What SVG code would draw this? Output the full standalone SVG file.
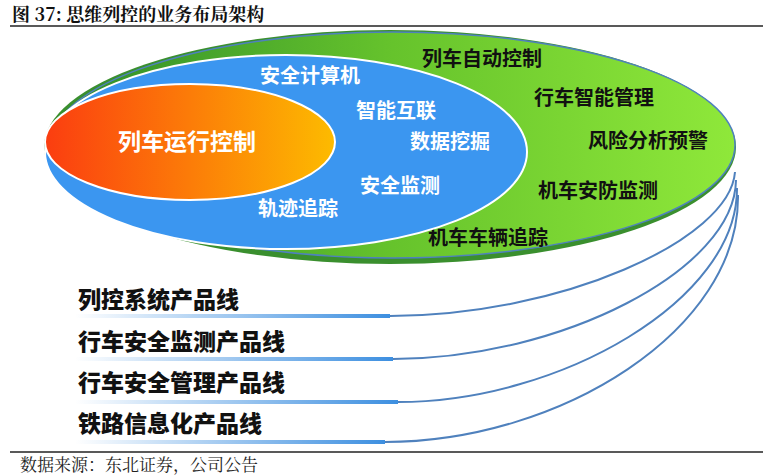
<svg xmlns="http://www.w3.org/2000/svg" width="763" height="476" viewBox="0 0 763 476">
<defs>
<linearGradient id="gg" x1="0" y1="0" x2="1" y2="0"><stop offset="0" stop-color="#2e8b2a"/><stop offset="0.5" stop-color="#66c32c"/><stop offset="1" stop-color="#8fe83a"/></linearGradient>
<linearGradient id="og" x1="0" y1="0" x2="1" y2="0"><stop offset="0" stop-color="#fb3d10"/><stop offset="1" stop-color="#fdbb00"/></linearGradient>
<linearGradient id="ul" x1="0" y1="0" x2="1" y2="0"><stop offset="0" stop-color="#fff"/><stop offset="1" stop-color="#3d8fe0"/></linearGradient>
<style>
.k{font-family:"Noto Sans CJK SC",sans-serif;font-weight:bold;fill:#111;text-anchor:middle}
.w{font-family:"Noto Sans CJK SC",sans-serif;font-weight:bold;fill:#fff;text-anchor:middle}
.p{font-family:"Noto Sans CJK SC",sans-serif;font-weight:900;fill:#111;font-size:23px}
.c{fill:none;stroke:#4f81bd;stroke-width:2}
</style>
</defs>
<text x="12" y="21" font-family="Noto Serif CJK SC,Liberation Serif,serif" font-size="18" font-weight="bold" fill="#111">图  37: 思维列控的业务布局架构</text>
<line x1="10" y1="26" x2="763" y2="26" stroke="#222" stroke-width="1.5"/>
<g id="connectors">
<path class="c" d="M735,172 C730,240 560,316 390,316"/>
<path class="c" d="M736,180 C735,270 560,359 393,359"/>
<path class="c" d="M737,188 C738,300 560,402 398,402"/>
<path class="c" d="M738,195 C740,330 560,442 385,442"/>
</g>
<g id="outer">
<ellipse cx="390" cy="147" rx="346" ry="117" fill="#3a8f2e"/>
<ellipse cx="393" cy="145" rx="342" ry="113" fill="url(#gg)" stroke="#4f81bd" stroke-width="1.5"/>
<text class="k" x="482" y="66" font-size="20">列车自动控制</text>
<text class="k" x="594" y="105" font-size="20">行车智能管理</text>
<text class="k" x="648" y="148" font-size="20">风险分析预警</text>
<text class="k" x="598" y="198" font-size="20">机车安防监测</text>
<text class="k" x="488" y="245" font-size="20">机车车辆追踪</text>
</g>
<g id="middle">
<ellipse cx="286" cy="152" rx="241" ry="97" fill="#3b96f0" stroke="#fff" stroke-width="2"/>
<text class="w" x="310" y="83" font-size="20">安全计算机</text>
<text class="w" x="396" y="118" font-size="20">智能互联</text>
<text class="w" x="450" y="149" font-size="20">数据挖掘</text>
<text class="w" x="400" y="193" font-size="20">安全监测</text>
<text class="w" x="298" y="216" font-size="20">轨迹追踪</text>
</g>
<g id="core">
<ellipse cx="190" cy="142" rx="145" ry="58" fill="url(#og)" stroke="#fff" stroke-width="2"/>
<text class="w" x="187" y="150" font-size="23">列车运行控制</text>
</g>
<g id="lines">
<rect x="75" y="314" width="315" height="4" fill="url(#ul)"/>
<rect x="75" y="357" width="318" height="4" fill="url(#ul)"/>
<rect x="75" y="400" width="323" height="4" fill="url(#ul)"/>
<rect x="75" y="440" width="310" height="4" fill="url(#ul)"/>
<text class="p" x="78" y="308">列控系统产品线</text>
<text class="p" x="78" y="350">行车安全监测产品线</text>
<text class="p" x="78" y="391">行车安全管理产品线</text>
<text class="p" x="78" y="432">铁路信息化产品线</text>
</g>
<line x1="10" y1="452" x2="763" y2="452" stroke="#222" stroke-width="1.5"/>
<text x="20" y="471" font-family="Noto Serif CJK SC,Liberation Serif,serif" font-size="17" fill="#222">数据来源：东北证券，公司公告</text>
</svg>
